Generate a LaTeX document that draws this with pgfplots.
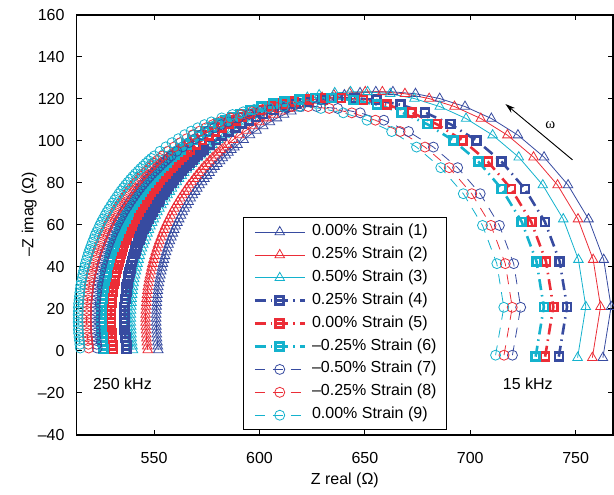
\documentclass[border=0pt]{standalone}
\usepackage{fontspec}
\setmainfont{Liberation Sans}
\newfontfamily\seriffont{Liberation Serif}
\usepackage{pgfplots}
\usepackage{pgfplotstable}
\pgfplotsset{compat=1.18}
\usetikzlibrary{arrows.meta}
\definecolor{cblue}{RGB}{55,75,160}
\definecolor{cred}{RGB}{235,45,55}
\definecolor{ccyan}{RGB}{20,178,205}
\pgfplotsset{
 tri/.style={solid, line width=0.8pt, mark=triangle, mark size=5.5pt, mark options={solid, line width=0.8pt}},
 sq/.style={line width=2.6pt, dash pattern=on 11pt off 5pt on 1.5pt off 5pt, mark=square, mark size=4pt, mark options={solid, line width=2.6pt}},
 circ/.style={line width=0.8pt, dash pattern=on 10pt off 8pt, mark=o, mark size=5pt, mark options={solid, line width=0.8pt}},
}
% triangles: y, x of series (1) blue, (2) red, (3) cyan
\pgfplotstableread{
y xb xr xc
-3.2 762.9 757.9 750.9
21.1 766.8 761.8 754.8
43.5 763.3 758.3 751.3
62.8 756.1 751.1 744.1
79.0 746.4 741.4 734.4
92.3 735.0 730.0 723.0
102.8 722.6 717.6 710.6
110.7 710.0 705.0 698.0
116.4 697.5 692.5 685.5
120.2 685.5 680.5 673.5
122.5 674.0 669.0 662.0
123.4 663.3 658.3 651.3
123.4 655.2 650.2 643.2
122.9 647.7 642.7 635.7
121.9 640.3 635.3 628.3
120.7 634.7 629.7 622.7
119.3 629.2 624.2 617.2
117.6 623.8 618.8 611.8
115.6 618.5 613.5 606.5
114.2 615.1 610.1 603.1
112.6 611.7 606.7 599.7
110.9 608.3 603.3 596.3
109.0 605.0 600.0 593.0
107.1 601.8 596.8 589.8
105.0 598.6 593.6 586.6
102.9 595.5 590.5 583.5
100.6 592.5 587.5 580.5
98.2 589.6 584.6 577.6
97.0 588.1 583.1 576.1
95.8 586.7 581.7 574.7
94.5 585.3 580.3 573.3
93.2 584.0 579.0 572.0
91.9 582.6 577.6 570.6
90.5 581.3 576.3 569.3
89.2 580.0 575.0 568.0
87.8 578.7 573.7 566.7
86.4 577.5 572.5 565.5
84.9 576.3 571.3 564.3
83.5 575.1 570.1 563.1
82.0 573.9 568.9 561.9
80.5 572.8 567.8 560.8
79.0 571.6 566.6 559.6
77.4 570.5 565.5 558.5
75.9 569.5 564.5 557.5
74.3 568.4 563.4 556.4
72.7 567.4 562.4 555.4
71.1 566.4 561.4 554.4
69.5 565.5 560.5 553.5
67.9 564.5 559.5 552.5
66.2 563.6 558.6 551.6
64.5 562.8 557.8 550.8
62.8 561.9 556.9 549.9
61.1 561.1 556.1 549.1
59.4 560.3 555.3 548.3
57.7 559.6 554.6 547.6
56.0 558.9 553.9 546.9
54.2 558.2 553.2 546.2
52.4 557.5 552.5 545.5
50.7 556.9 551.9 544.9
48.9 556.3 551.3 544.3
47.1 555.7 550.7 543.7
45.3 555.2 550.2 543.2
43.5 554.7 549.7 542.7
41.6 554.2 549.2 542.2
39.8 553.8 548.8 541.8
38.0 553.4 548.4 541.4
36.1 553.0 548.0 541.0
34.3 552.6 547.6 540.6
32.4 552.3 547.3 540.3
30.5 552.0 547.0 540.0
28.7 551.8 546.8 539.8
26.8 551.6 546.6 539.6
24.9 551.4 546.4 539.4
23.0 551.3 546.3 539.3
21.2 551.2 546.2 539.2
19.3 551.1 546.1 539.1
17.4 551.0 546.0 539.0
15.5 551.0 546.0 539.0
13.6 551.0 546.0 539.0
11.7 551.1 546.1 539.1
9.9 551.2 546.2 539.2
8.0 551.3 546.3 539.3
6.1 551.4 546.4 539.4
4.2 551.6 546.6 539.6
2.3 551.8 546.8 539.8
0.5 552.0 547.0 540.0
}\tritable
% squares: y, x of series (4) blue, (5) red, (6) cyan
\pgfplotstableread{
y xb xr xc
-2.7 742.0 735.5 731.0
21.0 745.9 739.4 734.9
42.7 742.4 735.9 731.4
61.5 735.4 728.9 724.4
77.2 725.9 719.4 714.9
90.1 714.9 708.4 703.9
100.3 702.9 696.4 691.9
108.0 690.6 684.1 679.6
113.6 678.5 672.0 667.5
117.3 666.8 660.3 655.8
119.5 655.6 649.1 644.6
120.4 645.2 638.7 634.2
120.4 637.3 630.8 626.3
119.9 630.0 623.5 619.0
118.9 622.8 616.3 611.8
117.8 617.4 610.9 606.4
116.4 612.1 605.6 601.1
114.8 606.8 600.3 595.8
112.9 601.7 595.2 590.7
111.4 598.3 591.8 587.3
109.9 595.0 588.5 584.0
108.2 591.7 585.2 580.7
106.4 588.5 582.0 577.5
104.5 585.4 578.9 574.4
102.5 582.3 575.8 571.3
100.4 579.3 572.8 568.3
98.2 576.4 569.9 565.4
95.9 573.5 567.0 562.5
94.7 572.1 565.6 561.1
93.5 570.7 564.2 559.7
92.3 569.4 562.9 558.4
91.0 568.1 561.6 557.1
89.7 566.8 560.3 555.8
88.4 565.5 559.0 554.5
87.1 564.2 557.7 553.2
85.8 563.0 556.5 552.0
84.4 561.8 555.3 550.8
83.0 560.6 554.1 549.6
81.6 559.4 552.9 548.4
80.1 558.3 551.8 547.3
78.7 557.1 550.6 546.1
77.2 556.1 549.6 545.1
75.7 555.0 548.5 544.0
74.2 554.0 547.5 543.0
72.7 552.9 546.4 541.9
71.1 552.0 545.5 541.0
69.6 551.0 544.5 540.0
68.0 550.1 543.6 539.1
66.4 549.2 542.7 538.2
64.8 548.3 541.8 537.3
63.2 547.4 540.9 536.4
61.5 546.6 540.1 535.6
59.9 545.8 539.3 534.8
58.2 545.1 538.6 534.1
56.5 544.3 537.8 533.3
54.8 543.6 537.1 532.6
53.1 543.0 536.5 532.0
51.4 542.3 535.8 531.3
49.7 541.7 535.2 530.7
47.9 541.1 534.6 530.1
46.2 540.6 534.1 529.6
44.4 540.1 533.6 529.1
42.7 539.6 533.1 528.6
40.9 539.1 532.6 528.1
39.1 538.7 532.2 527.7
37.3 538.3 531.8 527.3
35.5 537.9 531.4 526.9
33.7 537.6 531.1 526.6
31.9 537.3 530.8 526.3
30.1 537.0 530.5 526.0
28.3 536.8 530.3 525.8
26.5 536.6 530.1 525.6
24.7 536.4 529.9 525.4
22.8 536.3 529.8 525.3
21.0 536.1 529.6 525.1
19.2 536.1 529.6 525.1
17.3 536.0 529.5 525.0
15.5 536.0 529.5 525.0
13.7 536.0 529.5 525.0
11.8 536.1 529.6 525.1
10.0 536.1 529.6 525.1
8.2 536.3 529.8 525.3
6.3 536.4 529.9 525.4
4.5 536.6 530.1 525.6
2.7 536.8 530.3 525.8
0.9 537.0 530.5 526.0
}\sqtable
% circles: y, x of series (7) blue, (8) red, (9) cyan
\pgfplotstableread{
y xb xr xc
-2.0 720.0 716.0 712.0
20.8 723.9 719.9 715.9
41.6 720.6 716.6 712.6
59.8 713.8 709.8 705.8
74.9 704.7 700.7 696.7
87.3 694.0 690.0 686.0
97.1 682.5 678.5 674.5
104.5 670.7 666.7 662.7
109.9 659.0 655.0 651.0
113.4 647.8 643.8 639.8
115.5 637.1 633.1 629.1
116.4 627.1 623.1 619.1
116.4 619.5 615.5 611.5
115.9 612.4 608.4 604.4
115.0 605.5 601.5 597.5
113.9 600.3 596.3 592.3
112.6 595.2 591.2 587.2
111.0 590.1 586.1 582.1
109.1 585.2 581.2 577.2
107.8 581.9 577.9 573.9
106.3 578.7 574.7 570.7
104.7 575.6 571.6 567.6
103.0 572.5 568.5 564.5
101.1 569.5 565.5 561.5
99.2 566.5 562.5 558.5
97.2 563.6 559.6 555.6
95.1 560.8 556.8 552.8
92.9 558.1 554.1 550.1
91.7 556.7 552.7 548.7
90.6 555.4 551.4 547.4
89.4 554.1 550.1 546.1
88.1 552.8 548.8 544.8
86.9 551.6 547.6 543.6
85.7 550.4 546.4 542.4
84.4 549.1 545.1 541.1
83.1 547.9 543.9 539.9
81.8 546.8 542.8 538.8
80.4 545.6 541.6 537.6
79.1 544.5 540.5 536.5
77.7 543.4 539.4 535.4
76.3 542.3 538.3 534.3
74.9 541.3 537.3 533.3
73.4 540.3 536.3 532.3
72.0 539.3 535.3 531.3
70.5 538.3 534.3 530.3
69.0 537.4 533.4 529.4
67.5 536.4 532.4 528.4
66.0 535.5 531.5 527.5
64.5 534.7 530.7 526.7
62.9 533.8 529.8 525.8
61.4 533.0 529.0 525.0
59.8 532.2 528.2 524.2
58.2 531.5 527.5 523.5
56.6 530.7 526.7 522.7
55.0 530.0 526.0 522.0
53.3 529.4 525.4 521.4
51.7 528.7 524.7 520.7
50.0 528.1 524.1 520.1
48.4 527.5 523.5 519.5
46.7 526.9 522.9 518.9
45.0 526.4 522.4 518.4
43.3 525.9 521.9 517.9
41.6 525.4 521.4 517.4
39.9 525.0 521.0 517.0
38.2 524.6 520.6 516.6
36.5 524.2 520.2 516.2
34.8 523.9 519.9 515.9
33.0 523.5 519.5 515.5
31.3 523.2 519.2 515.2
29.6 523.0 519.0 515.0
27.8 522.8 518.8 514.8
26.1 522.6 518.6 514.6
24.3 522.4 518.4 514.4
22.6 522.2 518.2 514.2
20.8 522.1 518.1 514.1
19.0 522.1 518.1 514.1
17.3 522.0 518.0 514.0
15.5 522.0 518.0 514.0
13.7 522.0 518.0 514.0
12.0 522.1 518.1 514.1
10.2 522.1 518.1 514.1
8.5 522.2 518.2 514.2
6.7 522.4 518.4 514.4
5.0 522.6 518.6 514.6
3.2 522.8 518.8 514.8
1.4 523.0 519.0 515.0
}\circtable
\begin{document}
\begin{tikzpicture}
\begin{axis}[
 scale only axis, width=536.3pt, height=420pt,
 xmin=513.3, xmax=767.7, ymin=-40, ymax=160,
 xtick={550,600,650,700,750},
 ytick={-40,-20,0,20,40,60,80,100,120,140,160},
 yticklabels={–40,–20,0,20,40,60,80,100,120,140,160},
 tick align=inside, major tick length=5pt,
 axis line style={line width=1.1pt},
 major tick style={line width=1pt, black},
 /pgf/number format/assume math mode=true,
 tick label style={font=\fontsize{16}{19}\selectfont},
 xticklabel style={anchor=center, yshift=-23pt},
 yticklabel style={anchor=east, xshift=-8.7pt},
 xlabel={Z real (Ω)}, ylabel={–Z imag (Ω)},
 every axis x label/.style={at={(axis description cs:0.5,0)}, anchor=center, yshift=-45pt, font=\fontsize{16}{19}\selectfont},
 every axis y label/.style={at={(axis description cs:0,0.525)}, xshift=-47.5pt, rotate=90, anchor=center, font=\fontsize{16}{19}\selectfont},
 legend image code/.code={\draw[mark repeat=2,mark phase=2,#1] plot coordinates {(0pt,0pt) (25pt,0pt) (50pt,0pt)};},
 legend cell align=left,
 legend style={at={(axis description cs:0.310,0.519)}, anchor=north west, draw=black, line width=1pt, fill=white,
   font=\fontsize{16}{19}\selectfont, inner xsep=10pt, inner ysep=8pt, row sep=9.9pt,
   nodes={inner sep=0pt, text height=10pt, text depth=3pt},
   /tikz/every odd column/.append style={column sep=6pt}},
]
\addplot[tri, color=cblue] table[x=xb, y=y] {\tritable};
\addlegendentry{0.00\% Strain (1)}
\addplot[tri, color=cred] table[x=xr, y=y] {\tritable};
\addlegendentry{0.25\% Strain (2)}
\addplot[tri, color=ccyan] table[x=xc, y=y] {\tritable};
\addlegendentry{0.50\% Strain (3)}
\addplot[sq, color=cblue] table[x=xb, y=y] {\sqtable};
\addlegendentry{0.25\% Strain (4)}
\addplot[sq, color=cred] table[x=xr, y=y] {\sqtable};
\addlegendentry{0.00\% Strain (5)}
\addplot[sq, color=ccyan] table[x=xc, y=y] {\sqtable};
\addlegendentry{–0.25\% Strain (6)}
\addplot[circ, color=cblue] table[x=xb, y=y] {\circtable};
\addlegendentry{–0.50\% Strain (7)}
\addplot[circ, color=cred] table[x=xr, y=y] {\circtable};
\addlegendentry{–0.25\% Strain (8)}
\addplot[circ, color=ccyan] table[x=xc, y=y] {\circtable};
\addlegendentry{0.00\% Strain (9)}
\node[font=\fontsize{16}{19}\selectfont] at (axis cs:535,-15.7) {250 kHz};
\node[font=\fontsize{16}{19}\selectfont] at (axis cs:727.3,-15.7) {15 kHz};
\draw[-{Stealth[length=10pt,width=6pt]}, line width=0.9pt] (axis cs:748.5,91) -- (axis cs:716.7,117.6);
\node[font=\seriffont\fontsize{15}{17}\selectfont] at (axis cs:738,107.6) {ω};
\end{axis}
\path (current axis.south west) ++(-76.7pt,-60pt) coordinate (bl);
\path (current axis.north east) ++(1pt,15pt) coordinate (tr);
\pgfresetboundingbox
\path[use as bounding box] (bl) rectangle (tr);
\end{tikzpicture}
\end{document}
